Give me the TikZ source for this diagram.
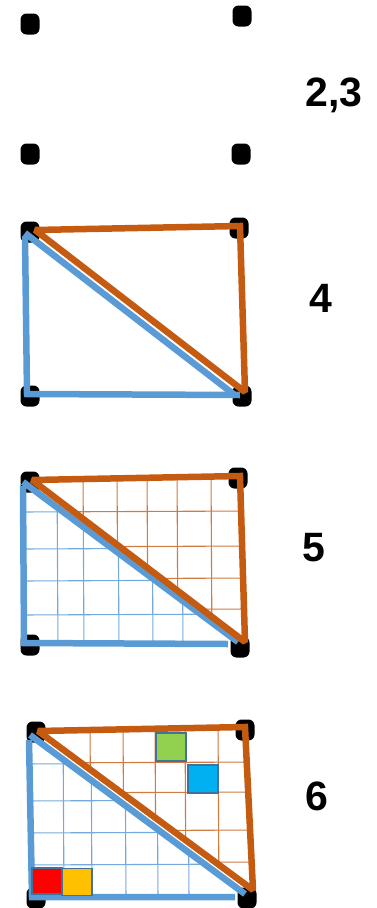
\documentclass[tikz,border=0pt]{standalone}
\usepackage{fontspec}
\setmainfont{Liberation Sans}
\definecolor{orng}{HTML}{C55A11}
\definecolor{blu}{HTML}{5B9BD5}
\definecolor{sqedge}{HTML}{41719C}
\definecolor{sqgreen}{HTML}{92D050}
\definecolor{sqcyan}{HTML}{00B0F0}
\definecolor{sqred}{HTML}{FF0000}
\definecolor{sqyellow}{HTML}{FFC000}
\begin{document}
\begin{tikzpicture}[x=1pt,y=-1pt,
  dotnode/.style={fill=black,rectangle,rounded corners=6pt,minimum width=19pt,minimum height=21pt,inner sep=0pt},
  lbl/.style={font=\fontsize{41}{41}\selectfont\bfseries,inner sep=0pt},
  oline/.style={draw=orng,line width=6.5pt,line join=miter,miter limit=2},
  bline/.style={draw=blu,line width=6.5pt,line join=miter,miter limit=2},
  ogrid/.style={draw=orng!80,line width=1.1pt},
  bgrid/.style={draw=blu!85,line width=1.1pt},
  sq/.style={draw=sqedge,line width=1.8pt}]
\useasboundingbox (0,0) rectangle (377,908);

% ---------- panel 1 ----------
\node[dotnode] (a1) at (30,24) {};
\node[dotnode] (a2) at (242,16) {};
\node[dotnode] (a3) at (30,154) {};
\node[dotnode] (a4) at (241,154) {};
\node[lbl] (la) at (334,95) {2,3};

% ---------- panel 2 ----------
\node[dotnode] (b1) at (30,232) {};
\node[dotnode] (b2) at (239,228) {};
\node[dotnode] (b3) at (30,396) {};
\node[dotnode] (b4) at (242,396) {};
\node[lbl] (lb) at (321,298) {4};
\path[bline] (25,236) -- (27,394) -- (240,395);
\path[bline] (25,233) -- (236,396);
\path[oline] (35,230) -- (240,226) -- (245,392) -- cycle;

% ---------- panel 3 ----------
\node[dotnode] (c1) at (30,482) {};
\node[dotnode] (c2) at (238,478) {};
\node[dotnode] (c3) at (30,645) {};
\node[dotnode] (c4) at (240,647) {};
\node[lbl] (lc) at (314,548) {5};
\begin{scope}
  \clip (32,480) -- (240,476) -- (245,642) -- cycle;
  \foreach \xx in {83,117,147,177,211} \draw[ogrid] (\xx,470) -- (\xx+1,650);
  \foreach \yy in {512,547,579,610} \draw[ogrid] (20,\yy) -- (250,\yy-1);
\end{scope}
\begin{scope}
  \clip (23,482) -- (24,644) -- (238,644) -- cycle;
  \foreach \xx in {57,83,118,152,182} \draw[bgrid] (\xx,470) -- (\xx+1,650);
  \foreach \yy in {512,549,581,615} \draw[bgrid] (20,\yy) -- (250,\yy-1);
\end{scope}
\path[bline] (23,486) -- (24,643) -- (228,644);
\path[bline] (23,482) -- (238,642);
\path[oline] (32,480) -- (240,476) -- (245,642) -- cycle;

% ---------- panel 4 ----------
\node[dotnode] (d1) at (36,732) {};
\node[dotnode] (d2) at (245,730) {};
\node[dotnode] (d3) at (36,898) {};
\node[dotnode] (d4) at (247,898) {};
\node[lbl] (ld) at (317,796) {6};
\begin{scope}
  \clip (38,731) -- (245,727) -- (253,890) -- cycle;
  \foreach \xx in {90,123,155,185,218} \draw[ogrid] (\xx,720) -- (\xx+1,900);
  \foreach \yy in {763,793,831,863} \draw[ogrid] (20,\yy) -- (260,\yy-1);
\end{scope}
\begin{scope}
  \clip (30,735) -- (32,897) -- (245,894) -- cycle;
  \foreach \xx in {63,91,125,157,188} \draw[bgrid] (\xx,720) -- (\xx+1,900);
  \foreach \yy in {764,801,833,865} \draw[bgrid] (20,\yy) -- (260,\yy-1);
\end{scope}
\path[bline] (29,740) -- (32,897) -- (235,897);
\path[bline] (30,735) -- (245,894);
\path[oline] (38,731) -- (245,727) -- (253,890) -- cycle;
\node[sq,fill=sqgreen,minimum width=30pt,minimum height=28pt,inner sep=0pt] (sg) at (171,747) {};
\node[sq,fill=sqcyan,minimum width=30pt,minimum height=28pt,inner sep=0pt] (sc) at (203,779) {};
\node[sq,fill=sqred,minimum width=30pt,minimum height=26pt,inner sep=0pt] (sr) at (47,881) {};
\node[sq,fill=sqyellow,minimum width=30pt,minimum height=27pt,inner sep=0pt] (sy) at (77,882) {};
\end{tikzpicture}
\end{document}
